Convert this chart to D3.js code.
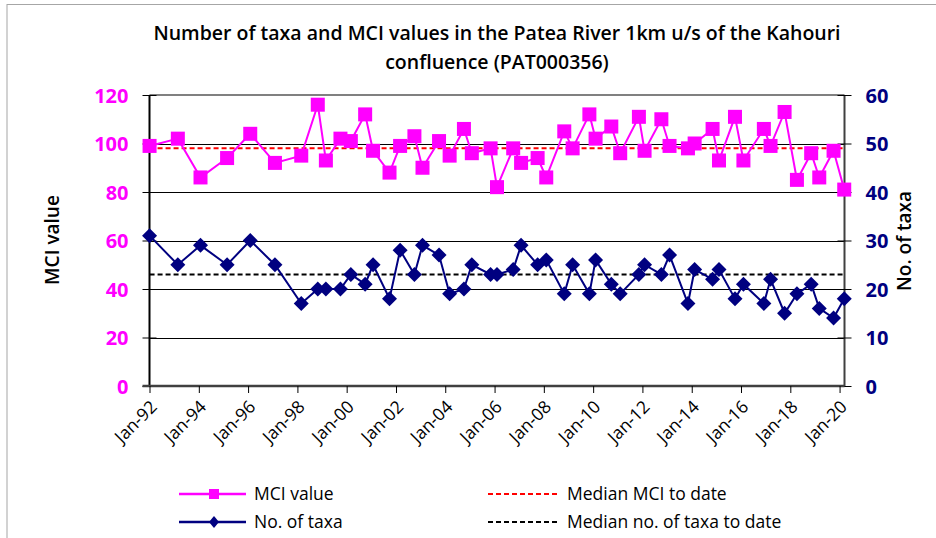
<!DOCTYPE html>
<html>
<head>
<meta charset="utf-8">
<script src="https://cdn.jsdelivr.net/npm/d3@7"></script>
<style>
  html, body { margin: 0; padding: 0; background: #fff; }
  svg { display: block; font-family: "Open Sans", "Noto Sans", sans-serif; }
</style>
</head>
<body>
<svg id="chart" width="936" height="538"></svg>
<script>
// ---- data ----
const sampleDates = [
  "1992-01-02","1993-02-24","1994-01-26","1995-02-24","1996-02-02","1997-02-02",
  "1998-02-27","1998-10-30","1999-02-27","1999-10-01","2000-03-03","2000-10-01",
  "2001-01-26","2001-09-27","2002-03-03","2002-10-01","2003-01-29","2003-10-01",
  "2004-03-06","2004-10-04","2005-01-29","2005-11-03","2006-02-06","2006-10-04",
  "2007-01-29","2007-10-01","2008-02-06","2008-10-30","2009-03-03","2009-11-06",
  "2010-02-06","2010-09-27","2011-02-06","2011-11-10","2012-02-02","2012-10-08",
  "2013-02-06","2013-11-06","2014-02-13","2014-11-06","2015-02-09","2015-10-04",
  "2016-02-06","2016-12-05","2017-03-14","2017-10-08","2018-04-09","2018-11-06",
  "2019-03-06","2019-10-04","2020-03-10"
];
const mciValues = [
  99,102,86,94,104,92,
  95,116,93,102,101,112,
  97,88,99,103,90,101,
  95,106,96,98,82,98,
  92,94,86,105,98,112,
  102,107,96,111,97,110,
  99,98,100,106,93,111,
  93,106,99,113,85,96,
  86,97,81
];
const taxaValues = [
  31,25,29,25,30,25,
  17,20,20,20,23,21,
  25,18,28,23,29,27,
  19,20,25,23,23,24,
  29,25,26,19,25,19,
  26,21,19,23,25,23,
  27,17,24,22,24,18,
  21,17,22,15,19,21,
  16,14,18
];
const medianMCI = 98;
const medianTaxa = 23;
const xDomain = ["1992-01-01", "2020-03-14"];
const xTickYears = [1992,1994,1996,1998,2000,2002,2004,2006,2008,2010,2012,2014,2016,2018,2020];
const mciTicks = [0,20,40,60,80,100,120];
const taxaTicks = [0,10,20,30,40,50,60];
const titleLines = ["Number of taxa and MCI values in the Patea River 1km u/s of the Kahouri", "confluence (PAT000356)"];
const legendItems = ["MCI value", "No. of taxa", "Median MCI to date", "Median no. of taxa to date"];

// ---- layout ----
const svg = d3.select("#chart");
const plot = { left: 149.5, right: 844.5, top: 95, bottom: 386 };
const parse = d3.timeParse("%Y-%m-%d");
const dates = sampleDates.map(parse);

const x = d3.scaleTime().domain(xDomain.map(parse)).range([plot.left, plot.right]);
const yL = d3.scaleLinear().domain([0, 120]).range([plot.bottom, plot.top]);
const yR = d3.scaleLinear().domain([0, 60]).range([plot.bottom, plot.top]);

const MAGENTA = "#FF00FF", NAVY = "#000080";

// chart border
svg.append("rect").attr("x", 7).attr("y", 4.5).attr("width", 940).attr("height", 540)
  .attr("fill", "none").attr("stroke", "#a6a6a6").attr("stroke-width", 1);

// title
svg.append("g").selectAll("text").data(titleLines).join("text")
  .attr("x", 497).attr("y", (d, i) => 40 + i * 29)
  .attr("text-anchor", "middle").attr("font-size", 19.5).attr("font-weight", 600)
  .attr("fill", "#000").text(d => d);

// gridlines
svg.append("g").selectAll("line").data(mciTicks.filter(t => t > 0 && t < 120)).join("line")
  .attr("x1", plot.left).attr("x2", plot.right)
  .attr("y1", d => Math.round(yL(d)) + 0.5).attr("y2", d => Math.round(yL(d)) + 0.5)
  .attr("stroke", "#000").attr("stroke-width", 1);

// plot area border top
svg.append("line").attr("x1", plot.left).attr("x2", plot.right)
  .attr("y1", plot.top).attr("y2", plot.top).attr("stroke", "#808080").attr("stroke-width", 2);

// left axis
const gL = svg.append("g").attr("transform", `translate(${plot.left},0)`)
  .call(d3.axisLeft(yL).tickValues(mciTicks).tickSize(7).tickPadding(14));
gL.select(".domain").attr("stroke", "#000").attr("stroke-width", 2).attr("d", `M0,${plot.top}V${plot.bottom}`);
gL.selectAll(".tick line").attr("stroke", "#000").attr("x1", 7).attr("x2", -7);
gL.selectAll(".tick text").attr("fill", MAGENTA).attr("font-size", 20).attr("font-weight", 700)
  .attr("font-family", "'Open Sans', sans-serif").attr("dy", "0.36em");

// right axis
const gR = svg.append("g").attr("transform", `translate(${plot.right},0)`)
  .call(d3.axisRight(yR).tickValues(taxaTicks).tickSize(7).tickPadding(14));
gR.select(".domain").attr("stroke", "#404040").attr("stroke-width", 2).attr("d", `M0,${plot.top}V${plot.bottom}`);
gR.selectAll(".tick line").attr("stroke", "#000").attr("x1", -7).attr("x2", 7);
gR.selectAll(".tick text").attr("fill", NAVY).attr("font-size", 20).attr("font-weight", 700)
  .attr("font-family", "'Open Sans', sans-serif").attr("dy", "0.36em");

// bottom axis
const tickDates = xTickYears.map(y => new Date(y, 0, 1));
const gB = svg.append("g").attr("transform", `translate(0,${plot.bottom})`)
  .call(d3.axisBottom(x).tickValues(tickDates).tickSize(7).tickFormat(d3.timeFormat("%b-%y")));
gB.select(".domain").attr("stroke", "#404040").attr("stroke-width", 2.5).attr("d", `M${plot.left - 7},0H${plot.right}`);
gB.selectAll(".tick line").attr("stroke", "#000");
gB.selectAll(".tick text").attr("fill", "#000").attr("font-size", 17.5)
  .attr("font-family", "'Open Sans', sans-serif")
  .attr("text-anchor", "end").attr("y", 0).attr("dy", 0)
  .attr("transform", "translate(8,22) rotate(-45)");

// axis titles
svg.append("text").attr("transform", `translate(59,240) rotate(-90)`)
  .attr("text-anchor", "middle").attr("font-size", 19).attr("font-weight", 600).text("MCI value");
svg.append("text").attr("transform", `translate(911,241) rotate(-90)`)
  .attr("text-anchor", "middle").attr("font-size", 19).attr("font-weight", 600).text("No. of taxa");

// median lines
const xStart = x(dates[0]), xEnd = x(dates[dates.length - 1]);
svg.append("line").attr("x1", xStart).attr("x2", xEnd)
  .attr("y1", yL(medianMCI)).attr("y2", yL(medianMCI))
  .attr("stroke", "#FF0000").attr("stroke-width", 2).attr("stroke-dasharray", "5,3");
svg.append("line").attr("x1", xStart).attr("x2", xEnd)
  .attr("y1", yR(medianTaxa)).attr("y2", yR(medianTaxa))
  .attr("stroke", "#000").attr("stroke-width", 2).attr("stroke-dasharray", "5,3");

// series
const mciData = dates.map((d, i) => ({ d, v: mciValues[i] }));
const taxaData = dates.map((d, i) => ({ d, v: taxaValues[i] }));

svg.append("path").datum(taxaData)
  .attr("fill", "none").attr("stroke", NAVY).attr("stroke-width", 2)
  .attr("d", d3.line().x(p => x(p.d)).y(p => yR(p.v)));
svg.append("g").selectAll("path").data(taxaData).join("path")
  .attr("transform", p => `translate(${x(p.d)},${yR(p.v)})`)
  .attr("d", "M0,-7.5L7.5,0L0,7.5L-7.5,0Z").attr("fill", NAVY);

svg.append("path").datum(mciData)
  .attr("fill", "none").attr("stroke", MAGENTA).attr("stroke-width", 2)
  .attr("d", d3.line().x(p => x(p.d)).y(p => yL(p.v)));
svg.append("g").selectAll("rect").data(mciData).join("rect")
  .attr("x", p => x(p.d) - 7).attr("y", p => yL(p.v) - 7)
  .attr("width", 14).attr("height", 14).attr("fill", MAGENTA);

// legend
const leg = svg.append("g").attr("font-size", 17.5).attr("fill", "#000");
const rows = [494, 522];
leg.append("line").attr("x1", 179).attr("x2", 246).attr("y1", rows[0]).attr("y2", rows[0])
  .attr("stroke", MAGENTA).attr("stroke-width", 2.5);
leg.append("rect").attr("x", 209).attr("y", rows[0] - 5).attr("width", 10).attr("height", 10).attr("fill", MAGENTA);
leg.append("text").attr("x", 254).attr("y", rows[0]).attr("dy", "0.36em").text(legendItems[0]);
leg.append("line").attr("x1", 179).attr("x2", 246).attr("y1", rows[1]).attr("y2", rows[1])
  .attr("stroke", NAVY).attr("stroke-width", 2.5);
leg.append("path").attr("transform", `translate(214,${rows[1]})`).attr("d", "M0,-6L5,0L0,6L-5,0Z").attr("fill", NAVY);
leg.append("text").attr("x", 254).attr("y", rows[1]).attr("dy", "0.36em").text(legendItems[1]);
leg.append("line").attr("x1", 488).attr("x2", 558).attr("y1", rows[0]).attr("y2", rows[0])
  .attr("stroke", "#FF0000").attr("stroke-width", 2).attr("stroke-dasharray", "5,3");
leg.append("text").attr("x", 567).attr("y", rows[0]).attr("dy", "0.36em").text(legendItems[2]);
leg.append("line").attr("x1", 488).attr("x2", 558).attr("y1", rows[1]).attr("y2", rows[1])
  .attr("stroke", "#000").attr("stroke-width", 2).attr("stroke-dasharray", "5,3");
leg.append("text").attr("x", 567).attr("y", rows[1]).attr("dy", "0.36em").text(legendItems[3]);
</script>
</body>
</html>
